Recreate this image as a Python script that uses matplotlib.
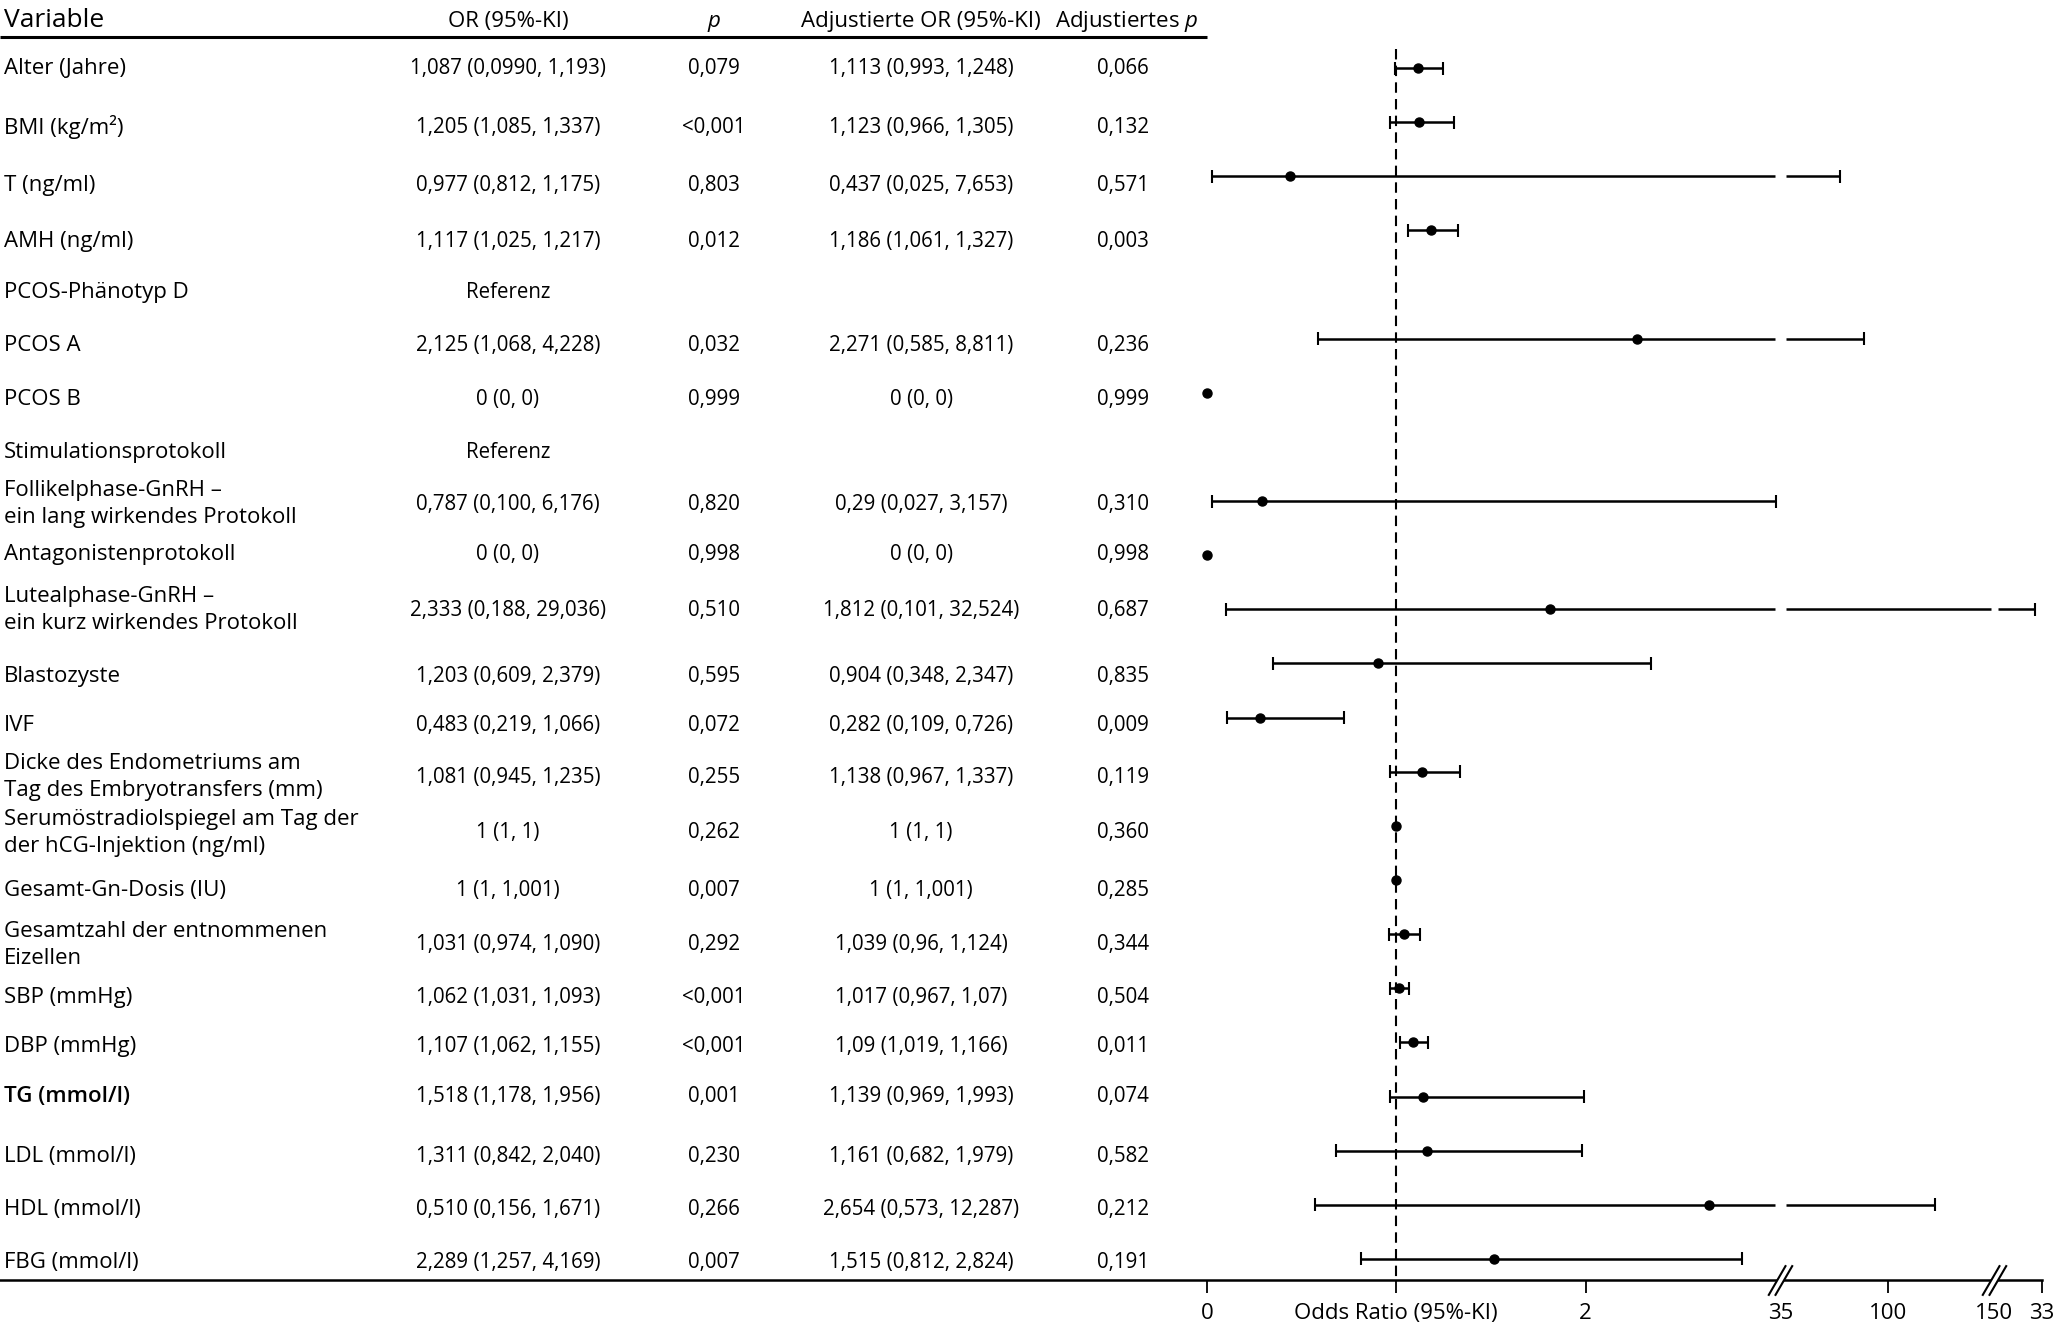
import numpy as np
import matplotlib
matplotlib.use('Agg')
import matplotlib.pyplot as plt
from matplotlib.path import Path
from matplotlib.transforms import blended_transform_factory

plt.rcParams['font.family'] = ['Open Sans', 'DejaVu Sans']
plt.rcParams['mathtext.fontset'] = 'custom'
plt.rcParams['mathtext.rm'] = 'Open Sans'
plt.rcParams['mathtext.it'] = 'Open Sans:italic'

# table content
variables = ["Alter (Jahre)", "BMI (kg/m²)", "T (ng/ml)", "AMH (ng/ml)",
             "PCOS-Phänotyp D", "PCOS A", "PCOS B", "Stimulationsprotokoll",
             "Follikelphase-GnRH –\nein lang wirkendes Protokoll",
             "Antagonistenprotokoll",
             "Lutealphase-GnRH –\nein kurz wirkendes Protokoll",
             "Blastozyste", "IVF",
             "Dicke des Endometriums am\nTag des Embryotransfers (mm)",
             "Serumöstradiolspiegel am Tag der\nder hCG-Injektion (ng/ml)",
             "Gesamt-Gn-Dosis (IU)",
             "Gesamtzahl der entnommenen\nEizellen",
             "SBP (mmHg)", "DBP (mmHg)", "TG (mmol/l)", "LDL (mmol/l)",
             "HDL (mmol/l)", "FBG (mmol/l)"]
or_text = ["1,087 (0,0990, 1,193)", "1,205 (1,085, 1,337)", "0,977 (0,812, 1,175)",
           "1,117 (1,025, 1,217)", "Referenz", "2,125 (1,068, 4,228)", "0 (0, 0)",
           "Referenz", "0,787 (0,100, 6,176)", "0 (0, 0)", "2,333 (0,188, 29,036)",
           "1,203 (0,609, 2,379)", "0,483 (0,219, 1,066)", "1,081 (0,945, 1,235)",
           "1 (1, 1)", "1 (1, 1,001)", "1,031 (0,974, 1,090)", "1,062 (1,031, 1,093)",
           "1,107 (1,062, 1,155)", "1,518 (1,178, 1,956)", "1,311 (0,842, 2,040)",
           "0,510 (0,156, 1,671)", "2,289 (1,257, 4,169)"]
p_text = ["0,079", "<0,001", "0,803", "0,012", "", "0,032", "0,999", "", "0,820",
          "0,998", "0,510", "0,595", "0,072", "0,255", "0,262", "0,007", "0,292",
          "<0,001", "<0,001", "0,001", "0,230", "0,266", "0,007"]
adj_or_text = ["1,113 (0,993, 1,248)", "1,123 (0,966, 1,305)", "0,437 (0,025, 7,653)",
               "1,186 (1,061, 1,327)", "", "2,271 (0,585, 8,811)", "0 (0, 0)", "",
               "0,29 (0,027, 3,157)", "0 (0, 0)", "1,812 (0,101, 32,524)",
               "0,904 (0,348, 2,347)", "0,282 (0,109, 0,726)", "1,138 (0,967, 1,337)",
               "1 (1, 1)", "1 (1, 1,001)", "1,039 (0,96, 1,124)", "1,017 (0,967, 1,07)",
               "1,09 (1,019, 1,166)", "1,139 (0,969, 1,993)", "1,161 (0,682, 1,979)",
               "2,654 (0,573, 12,287)", "1,515 (0,812, 2,824)"]
adj_p_text = ["0,066", "0,132", "0,571", "0,003", "", "0,236", "0,999", "", "0,310",
              "0,998", "0,687", "0,835", "0,009", "0,119", "0,360", "0,285", "0,344",
              "0,504", "0,011", "0,074", "0,582", "0,212", "0,191"]

# adjusted OR used for the forest plot (nan = reference row)
nan = np.nan
adj_or = [1.113, 1.123, 0.437, 1.186, nan, 2.271, 0, nan, 0.29, 0, 1.812, 0.904,
          0.282, 1.138, 1, 1, 1.039, 1.017, 1.09, 1.139, 1.161, 2.654, 1.515]
adj_lo = [0.993, 0.966, 0.025, 1.061, nan, 0.585, 0, nan, 0.027, 0, 0.101, 0.348,
          0.109, 0.967, 1, 1, 0.96, 0.967, 1.019, 0.969, 0.682, 0.573, 0.812]
adj_hi = [1.248, 1.305, 7.653, 1.327, nan, 8.811, 0, nan, 3.157, 0, 32.524, 2.347,
          0.726, 1.337, 1, 1.001, 1.124, 1.07, 1.166, 1.993, 1.979, 12.287, 2.824]

tick_vals = [0, 1, 2, 10, 33]
tick_labels = ["0", "Odds Ratio (95%-KI)", "2", "100", "33"]
break_vals = [4, 22.5]
break_labels = ["35", "150"]

# broken x axis: three linear pieces
segments = [(0, 3), (5, 15), (30, 33)]
brk_data = [-10, 0, 3, 5, 15, 30, 33, 40]
brk_px = [-1894, 0, 568.2, 579.2, 784.2, 791.2, 835.2, 937.9]

def fwd(x):
    return np.interp(x, brk_data, brk_px)

def inv(u):
    return np.interp(u, brk_px, brk_data)

# vertical placement of the table text (row slots)
text_rows = [0.0, 1.09, 2.16, 3.2, 4.15, 5.12, 6.12, 7.11, 8.06, 8.98, 10.02, 11.24,
             12.14, 13.1, 14.13, 15.19, 16.2, 17.18, 18.08, 19.0, 20.1, 21.09, 22.06]

W, H = 2056, 1328
fig = plt.figure(figsize=(W / 100, H / 100), dpi=100)
ax = fig.add_axes([0, 48 / H, 2042 / W, 1 - 48 / H])
ax.set_xscale('function', functions=(fwd, inv))
ax.set_xlim(inv(-1206.8), 33)
ax.set_ylim(22.39, -1.258)

for s in ['top', 'left', 'right']:
    ax.spines[s].set_visible(False)
ax.spines['bottom'].set_linewidth(1.8)
ax.set_yticks([])
ax.set_xticks(tick_vals, tick_labels)
ax.set_xticks(break_vals, break_labels, minor=True)
ax.tick_params(axis='x', which='major', direction='out', length=9.5, width=1.3,
               labelsize=16, pad=7)
ax.tick_params(axis='x', which='minor', length=0, labelsize=16, pad=16.5)

# reference line at OR = 1
ax.vlines(1, -0.36, 22.39, colors='black', linewidth=1.5, linestyles=(0, (5, 3)))

# header rule over the table
ax.hlines(-0.57, inv(-1206.8), 0, colors='black', linewidth=2.2, clip_on=False)

# confidence intervals and point estimates
for i in range(len(adj_or)):
    est, lo, hi = adj_or[i], adj_lo[i], adj_hi[i]
    if np.isnan(est):
        continue
    if hi - lo > 0.01:
        for a, b in segments:
            pa, pb = max(lo, a), min(hi, b)
            if pa < pb:
                ax.hlines(i, pa, pb, colors='black', linewidth=1.8)
        ax.vlines([lo, hi], i - 0.12, i + 0.12, colors='black', linewidth=1.5)
    ax.plot(est, i, 'o', color='black', markersize=6.5, clip_on=False, zorder=4)

# axis break marks "//"
white_gap = Path([(-0.37, -0.5), (-0.13, -0.5), (0.37, 0.5), (0.13, 0.5),
                  (-0.37, -0.5)], closed=True)
slashes = Path([(-0.40, -0.5), (0.18, 0.5), (-0.18, -0.5), (0.40, 0.5)],
               [Path.MOVETO, Path.LINETO, Path.MOVETO, Path.LINETO])
for bv in break_vals:
    ax.plot(bv, 22.39, marker=white_gap, markersize=22, color='white',
            markeredgewidth=0, clip_on=False, zorder=5)
    ax.plot(bv, 22.39, marker=slashes, markersize=22, color='black',
            markeredgewidth=1.5, fillstyle='none', clip_on=False, zorder=6)

# table text
tr = blended_transform_factory(fig.transFigure, ax.transData)
col_var = 4 / W
col_or = 508 / W
col_p = 714 / W
col_aor = 921 / W
col_ap = 1123 / W
fs_lab = 16
fs_num = 14.8

hy = -0.75
ax.text(col_var, hy, "Variable", transform=tr, ha='left', va='baseline', fontsize=19)
ax.text(col_or, hy, "OR (95%-KI)", transform=tr, ha='center', va='baseline',
        fontsize=fs_lab)
ax.text(col_p, hy, "p", transform=tr, ha='center', va='baseline', fontsize=fs_lab,
        fontstyle='italic')
ax.text(col_aor, hy, "Adjustierte OR (95%-KI)", transform=tr, ha='center',
        va='baseline', fontsize=fs_lab)
ax.text(col_ap + 4 / W, hy, "Adjustiertes $p$", transform=tr, ha='center',
        va='baseline', fontsize=fs_lab)

for i in range(len(variables)):
    y = text_rows[i]
    w = 'semibold' if variables[i].startswith("TG") else 'normal'
    ax.text(col_var, y, variables[i], transform=tr, ha='left', va='center',
            fontsize=fs_lab, linespacing=1.38, fontweight=w)
    ax.text(col_or, y, or_text[i], transform=tr, ha='center', va='center',
            fontsize=fs_num)
    ax.text(col_p, y, p_text[i], transform=tr, ha='center', va='center',
            fontsize=fs_num)
    ax.text(col_aor, y, adj_or_text[i], transform=tr, ha='center', va='center',
            fontsize=fs_num)
    ax.text(col_ap, y, adj_p_text[i], transform=tr, ha='center', va='center',
            fontsize=fs_num)

plt.savefig('out.png', dpi=100)
